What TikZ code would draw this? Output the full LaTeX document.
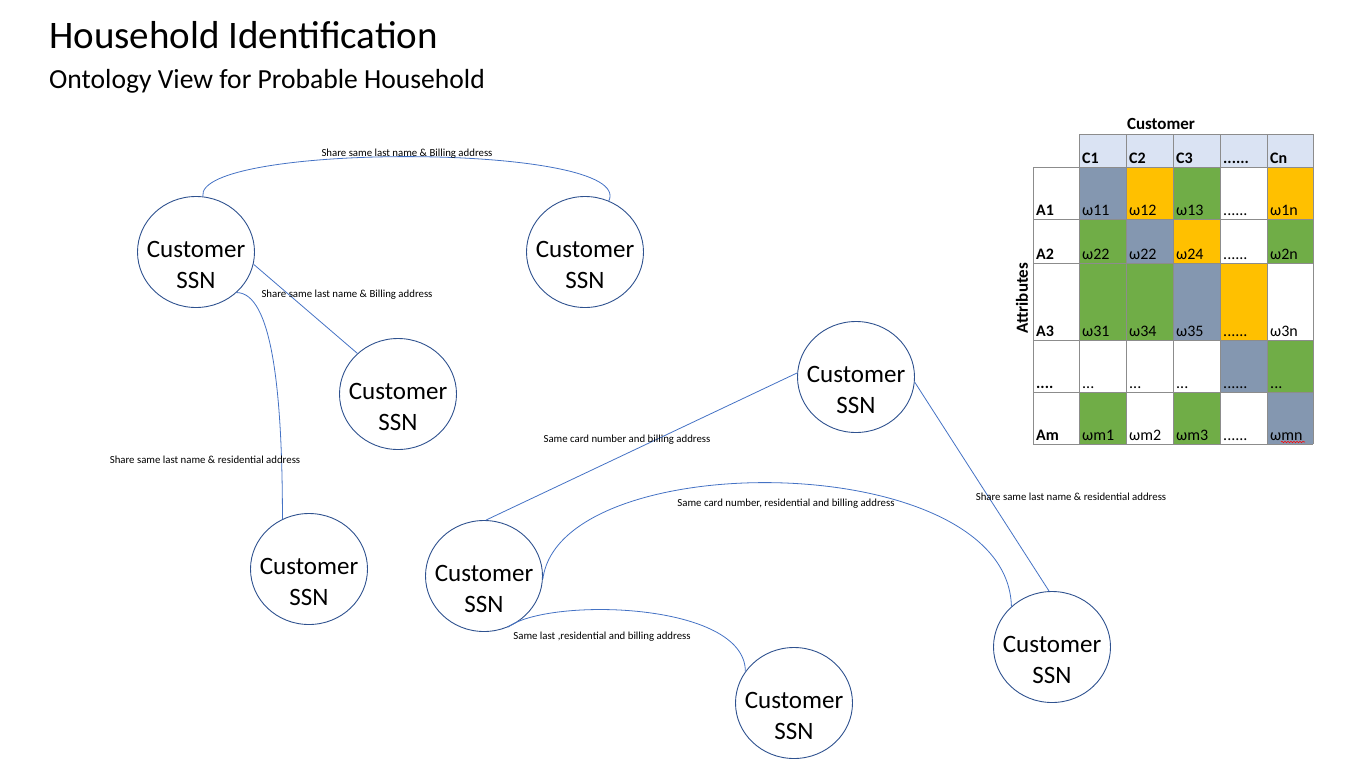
\documentclass[tikz,border=0pt]{standalone}
\usepackage{fontspec}
\setmainfont{Carlito}
\usetikzlibrary{shapes.geometric,decorations.pathmorphing}
\definecolor{ringblue}{HTML}{2F528F}
\definecolor{linkblue}{HTML}{4472C4}
\definecolor{headblue}{HTML}{DAE3F3}
\definecolor{slate}{HTML}{8497B0}
\definecolor{amber}{HTML}{FFC000}
\definecolor{leaf}{HTML}{70AD47}
\definecolor{gridgray}{HTML}{8C8C8C}
\newcommand\celldots{......}
\newcommand\fewdots{...}
\newcommand\rowdots{....}
\tikzset{
  cust/.style={draw=ringblue, line width=0.9pt, ellipse, minimum width=117pt,
    minimum height=111pt, inner sep=0pt,
    label={[custtext]center:Customer\\SSN}},
  custtext/.style={align=center, yshift=-13pt, inner sep=0pt,
    font=\fontsize{25}{30.5}\selectfont},
  link/.style={draw=linkblue, line width=0.8pt},
  linktext/.style={inner sep=0pt, font=\fontsize{10.8}{12}\selectfont},
  cell/.style={anchor=base west, inner sep=0pt, font=\fontsize{16}{18}\selectfont},
  head/.style={cell, font=\fontsize{16}{18}\selectfont\bfseries},
  grid/.style={draw=gridgray, line width=0.9pt}
}
\begin{document}
\begin{tikzpicture}[x=1pt,y=-1pt]
   \useasboundingbox (0,0) rectangle (1351,761);

   \node[anchor=base west, inner sep=0pt, font=\fontsize{39}{44}\selectfont]
   (title) at (49,48) {Household Identification};
   \node[anchor=base west, inner sep=0pt, font=\fontsize{27.6}{32}\selectfont]
   (subtitle) at (49,88) {Ontology View for Probable Household};

   % customers
   \node[cust] (c1) at (196,252) {};
   \node[cust] (c2) at (585,252) {};
   \node[cust] (c3) at (398,394) {};
   \node[cust] (c4) at (309,569) {};
   \node[cust] (c5) at (856,377) {};
   \node[cust] (c6) at (484,576) {};
   \node[cust] (c7) at (1052,647) {};
   \node[cust] (c8) at (794,703) {};

   \draw[link] (c1.83) .. controls +(-8,-54) and +(27,-58) .. (c2.65);
   \draw[link] (c1.-12) -- (c3.135);
   \draw[link] (c1.-45) .. controls +(35,0) and +(0,-130) .. (c4.118);
   \draw[link] (c6.88) -- (c5.176);
   \draw[link] (c5.-5) -- (c7.93);
   \draw[link] (c6.-3) .. controls +(17,-134) and +(-4,-159) .. (c7.135);
   \draw[link] (c6.-65) .. controls +(40,-30) and +(0,-70) .. (c8.147);

   \node[linktext] (l12) at (407,154) {Share same last name \& Billing address};
   \node[linktext] (l13) at (347,295) {Share same last name \& Billing address};
   \node[linktext] (l14) at (205,460) {Share same last name \& residential address};
   \node[linktext] (l65) at (627,440) {Same card number and billing address};
   \node[linktext] (l67) at (786,504) {Same card number, residential and billing address};
   \node[linktext] (l57) at (1071,497) {Share same last name \& residential address};
   \node[linktext] (l68) at (602,637) {Same last ,residential and billing address};

   % weight matrix
   \fill[headblue] (1079,134) rectangle (1313,167);
   \foreach \ya/\yb/\ca/\cb/\cc/\cd/\ce in {167/219/slate/amber/leaf/white/amber,
     219/263/leaf/slate/amber/white/leaf, 263/340/leaf/leaf/slate/amber/white,
     340/392/white/white/white/slate/leaf, 392/444/leaf/white/leaf/white/slate}{
     \fill[\ca] (1079,\ya) rectangle (1126,\yb);
     \fill[\cb] (1126,\ya) rectangle (1173,\yb);
     \fill[\cc] (1173,\ya) rectangle (1220,\yb);
     \fill[\cd] (1220,\ya) rectangle (1267,\yb);
     \fill[\ce] (1267,\ya) rectangle (1313,\yb);
   }
   \foreach \x in {1079,1126,1173,1220,1267,1313} \draw[grid] (\x,134) -- (\x,444);
   \draw[grid] (1033,167) -- (1033,444);
   \draw[grid] (1079,134) -- (1313,134);
   \foreach \y in {167,219,263,340,392,444} \draw[grid] (1033,\y) -- (1313,\y);

   \node[font=\fontsize{17}{19}\selectfont\bfseries] (colhead) at (1161,124) {Customer};
   \node[rotate=90, font=\fontsize{17}{19}\selectfont\bfseries] (rowhead) at (1022,298)
   {Attributes};

   \foreach \x/\t [count=\i] in {1082/C1,1129/C2,1176/C3,1223/\celldots,1270/Cn}
     \node[head] (h\i) at (\x,163) {\t};
   \foreach \y/\t [count=\i] in {215/A1,259/A2,336/A3,388/\rowdots,440/Am}
     \node[head] (r\i) at (1036,\y) {\t};
   \foreach \x/\t [count=\i] in {1082/ω11,1129/ω12,1176/ω13,1223/\celldots,1270/ω1n}
     \node[cell] (a1\i) at (\x,215) {\t};
   \foreach \x/\t [count=\i] in {1082/ω22,1129/ω22,1176/ω24,1223/\celldots,1270/ω2n}
     \node[cell] (a2\i) at (\x,259) {\t};
   \foreach \x/\t [count=\i] in {1082/ω31,1129/ω34,1176/ω35,1223/\celldots,1270/ω3n}
     \node[cell] (a3\i) at (\x,336) {\t};
   \foreach \x/\t [count=\i] in {1082/\fewdots,1129/\fewdots,1176/\fewdots,1223/\celldots,1270/\fewdots}
     \node[cell] (a4\i) at (\x,388) {\t};
   \foreach \x/\t [count=\i] in {1082/ωm1,1129/ωm2,1176/ωm3,1223/\celldots,1270/ωmn}
     \node[cell] (a5\i) at (\x,440) {\t};
   \draw[red, line width=0.6pt, decorate,
     decoration={snake, amplitude=0.7pt, segment length=3pt}] (1281,442) -- (1305,442);

 \end{tikzpicture}
\end{document}
